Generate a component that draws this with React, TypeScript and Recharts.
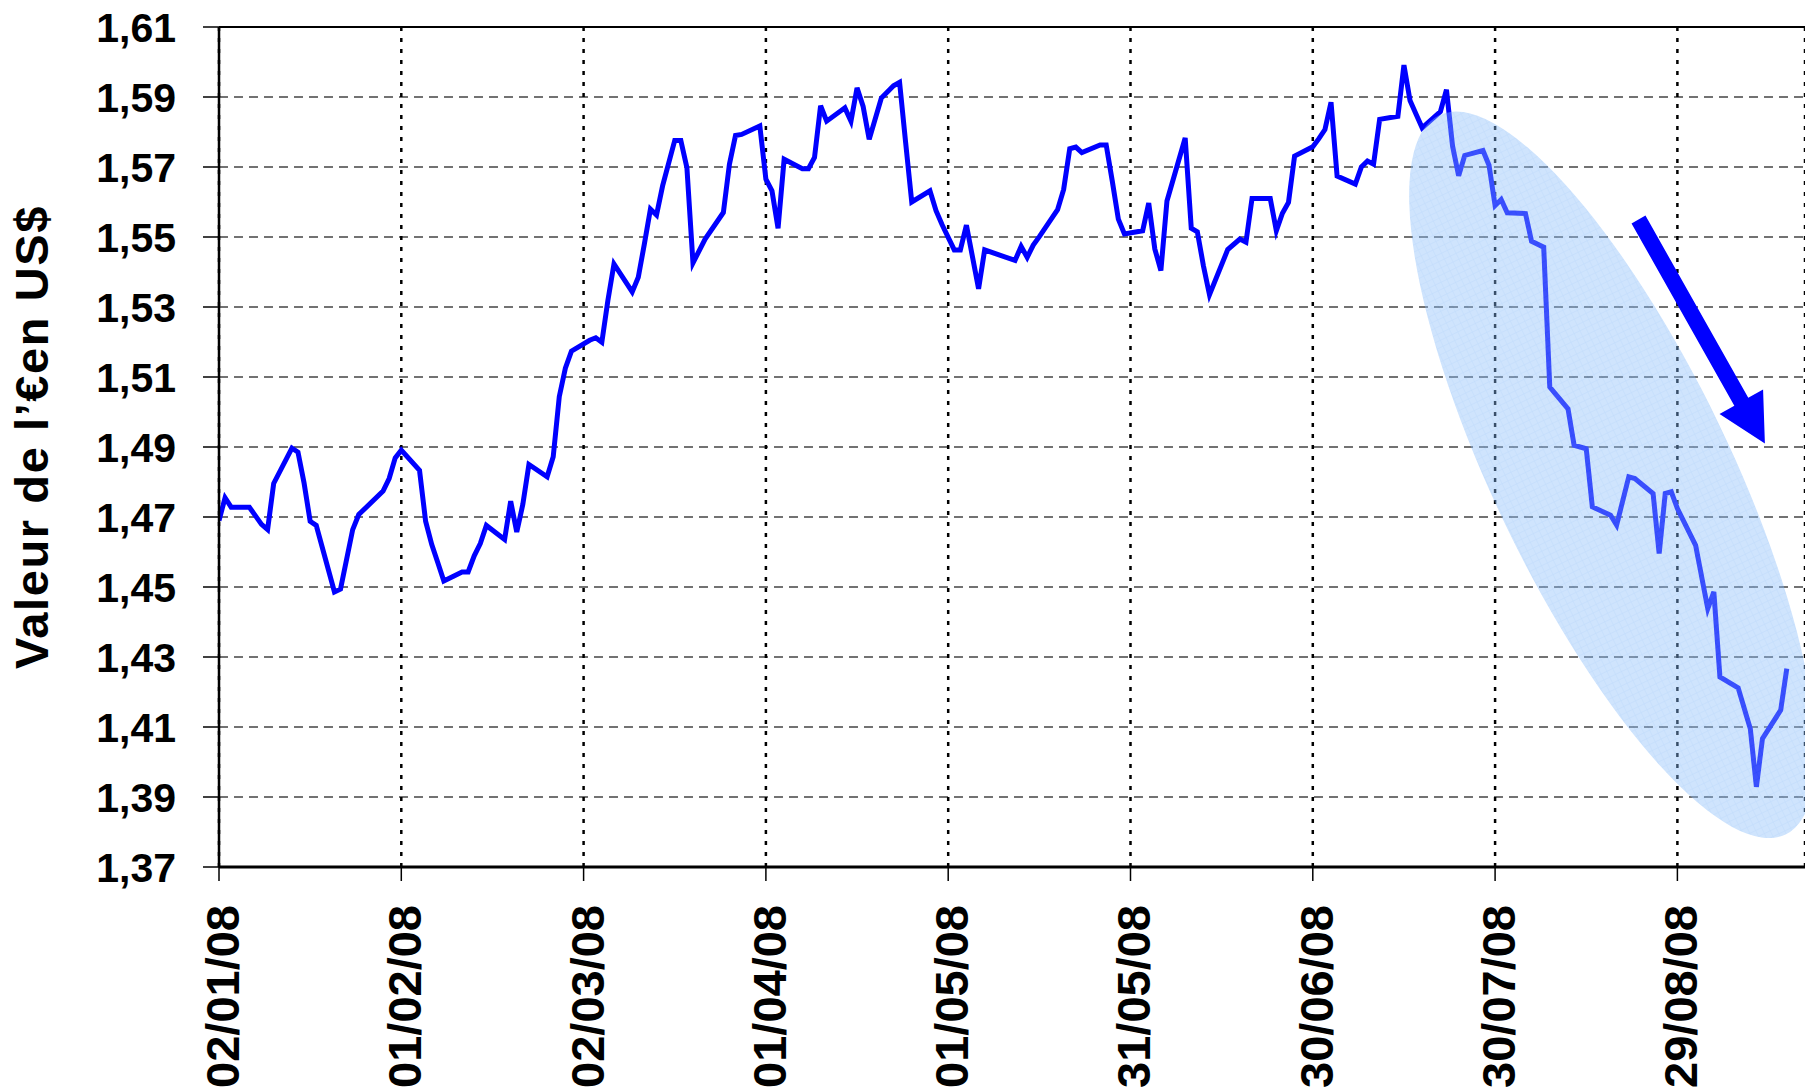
import { LineChart, Line, XAxis, YAxis, CartesianGrid, ReferenceLine } from 'recharts';

// day offsets from 02/01/08 and EUR/USD closing values
const days = [
  0, 1, 2, 5, 7, 8, 9, 12, 13, 14, 15, 16, 19, 20, 22, 23, 27, 28, 29, 30,
  33, 34, 35, 36, 37, 40, 41, 42, 43, 44, 47, 48, 49, 50, 51, 54, 55, 56, 57, 58,
  61, 62, 63, 64, 65, 68, 69, 70, 71, 72, 73, 75, 76, 77, 78, 80, 83, 84, 85, 86,
  89, 90, 91, 92, 93, 96, 97, 98, 99, 100, 103, 104, 105, 106, 107, 109, 111, 112, 113, 114,
  117, 118, 119, 121, 122, 123, 125, 126, 131, 132, 133, 134, 135, 138, 139, 140, 141, 142, 145, 146,
  147, 148, 149, 152, 153, 154, 155, 156, 159, 160, 161, 162, 163, 166, 168, 169, 170, 173, 174, 175,
  176, 177, 180, 181, 182, 183, 184, 187, 188, 189, 190, 191, 194, 195, 196, 197, 198, 201, 202, 203,
  204, 205, 208, 209, 210, 211, 212, 215, 216, 218, 219, 222, 223, 225, 226, 229, 230, 232, 233, 236,
  237, 238, 239, 240, 243, 245, 246, 247, 250, 252, 253, 254, 257, 258
];

const rates = [
  1.469, 1.4755, 1.4728, 1.4728, 1.4679, 1.4664, 1.4796, 1.4897, 1.4885, 1.4797, 1.4688, 1.4676, 1.4486, 1.4494, 1.4664, 1.4707, 1.4774, 1.481, 1.4869, 1.4891,
  1.4833, 1.4688, 1.4622, 1.457, 1.4517, 1.4543, 1.4543, 1.4589, 1.4624, 1.4676, 1.4636, 1.4745, 1.4657, 1.4736, 1.485, 1.4815, 1.4872, 1.5044, 1.5125, 1.5174,
  1.5205, 1.5212, 1.5199, 1.5319, 1.5423, 1.5343, 1.5385, 1.548, 1.558, 1.5563, 1.5646, 1.5776, 1.5776, 1.5698, 1.5426, 1.5494, 1.557, 1.5708, 1.579, 1.5793,
  1.5817, 1.5665, 1.5632, 1.5525, 1.5722, 1.5695, 1.5695, 1.5727, 1.5875, 1.5831, 1.5869, 1.5831, 1.5926, 1.5873, 1.5779, 1.5897, 1.5932, 1.5942, 1.5769, 1.56,
  1.5632, 1.5575, 1.5535, 1.5463, 1.5463, 1.5534, 1.5352, 1.5463, 1.5433, 1.5473, 1.5442, 1.5477, 1.5501, 1.5578, 1.5636, 1.5752, 1.5757, 1.5741, 1.5763, 1.5763,
  1.566, 1.5551, 1.5509, 1.5518, 1.5597, 1.5466, 1.5404, 1.5603, 1.5783, 1.5525, 1.5515, 1.5418, 1.5335, 1.5464, 1.5494, 1.5485, 1.561, 1.561, 1.5518, 1.5568,
  1.5599, 1.5731, 1.5758, 1.5781, 1.5807, 1.5885, 1.5674, 1.5651, 1.57, 1.5717, 1.5708, 1.5836, 1.5845, 1.5991, 1.589, 1.5851, 1.5812, 1.5858, 1.5921, 1.576,
  1.5675, 1.5733, 1.5747, 1.5705, 1.559, 1.5607, 1.5569, 1.5567, 1.5488, 1.5471, 1.5071, 1.5009, 1.4905, 1.4895, 1.4729, 1.4705, 1.4677, 1.4815, 1.481, 1.4767,
  1.4596, 1.4767, 1.4772, 1.4724, 1.4619, 1.4438, 1.4486, 1.4243, 1.4212, 1.4095, 1.3929, 1.4067, 1.4148, 1.4267
];

const tickDays = [0, 30, 60, 90, 120, 150, 180, 210, 240];
const tickLabels = ['02/01/08', '01/02/08', '02/03/08', '01/04/08', '01/05/08', '31/05/08', '30/06/08', '30/07/08', '29/08/08'];
const yTicks = [1.37, 1.39, 1.41, 1.43, 1.45, 1.47, 1.49, 1.51, 1.53, 1.55, 1.57, 1.59, 1.61];

// annotation: shaded oval along the fall, and the trend arrow (day, rate)
const ovalAxis = [{ x: 200.8, y: 1.5848 }, { x: 257.8, y: 1.3793 }];
const arrowPath = [{ x: 233.6, y: 1.555 }, { x: 254.4, y: 1.491 }];

const data = days.map((d, i) => ({ day: d, rate: rates[i] }));

const FONT = '"Liberation Sans", Arial, sans-serif';
const OVAL_HALF_WIDTH = 118;

function Oval(p: any) {
  const { x1, y1, x2, y2 } = p;
  const cx = (x1 + x2) / 2;
  const cy = (y1 + y2) / 2;
  const rx = Math.hypot(x2 - x1, y2 - y1) / 2;
  const ang = (Math.atan2(y2 - y1, x2 - x1) * 180) / Math.PI;
  return (
    <g>
      <defs>
        <pattern id="ovalGrid" width="6.5" height="6.5" patternUnits="userSpaceOnUse">
          <rect width="6.5" height="6.5" fill="#8cbefa" />
          <path d="M6.5 0V6.5M0 6.5H6.5" stroke="#6aaaf5" strokeWidth="1" />
        </pattern>
      </defs>
      <ellipse
        cx={cx}
        cy={cy}
        rx={rx}
        ry={OVAL_HALF_WIDTH}
        transform={`rotate(${ang} ${cx} ${cy})`}
        fill="url(#ovalGrid)"
        fillOpacity={0.42}
      />
    </g>
  );
}

function Arrow(p: any) {
  const { x1, y1, x2, y2 } = p;
  const len = Math.hypot(x2 - x1, y2 - y1);
  const ux = (x2 - x1) / len;
  const uy = (y2 - y1) / len;
  const nx = -uy;
  const ny = ux;
  const shaft = 8;
  const headLen = 48;
  const headHalf = 25;
  const bx = x2 - ux * headLen;
  const by = y2 - uy * headLen;
  const pts = [
    [x1 + nx * shaft, y1 + ny * shaft],
    [bx + nx * shaft, by + ny * shaft],
    [bx + nx * headHalf, by + ny * headHalf],
    [x2, y2],
    [bx - nx * headHalf, by - ny * headHalf],
    [bx - nx * shaft, by - ny * shaft],
    [x1 - nx * shaft, y1 - ny * shaft]
  ];
  return <polygon points={pts.map((q) => q.join(',')).join(' ')} fill="#0000ff" />;
}

function DateTick(props: any) {
  const { x, y, payload } = props;
  const idx = tickDays.indexOf(payload.value);
  return (
    <g transform={`translate(${x},${y})`}>
      <text
        transform="rotate(-90)"
        x={0}
        y={20}
        textAnchor="end"
        fontFamily={FONT}
        fontWeight="bold"
        fontSize={47}
        fill="#000"
      >
        {tickLabels[idx]}
      </text>
    </g>
  );
}

function YTitle() {
  return (
    <text
      transform="translate(48,437) rotate(-90)"
      textAnchor="middle"
      fontFamily={FONT}
      fontWeight="bold"
      fontSize={47}
      letterSpacing={1.6}
      fill="#000"
    >
      Valeur de l’€en US$
    </text>
  );
}

export default function App() {
  return (
    <div style={{ position: 'absolute', left: 0, top: 0, width: 1805, height: 1087, background: '#fff' }}>
      <LineChart width={1805} height={1087} data={data} margin={{ top: 27, right: 0, bottom: 0, left: 0 }}>
        <CartesianGrid horizontal vertical={false} stroke="#444" strokeWidth={1.5} strokeDasharray="9 6" />
        <CartesianGrid horizontal={false} vertical stroke="#000" strokeWidth={2.5} strokeDasharray="4 7" />
        <XAxis
          dataKey="day"
          type="number"
          domain={[0, 261]}
          ticks={tickDays}
          interval={0}
          allowDataOverflow
          height={220}
          tickSize={14}
          tickMargin={24}
          axisLine={{ stroke: '#000', strokeWidth: 3 }}
          tickLine={{ stroke: '#000', strokeWidth: 1.5 }}
          tick={<DateTick />}
        />
        <YAxis
          type="number"
          domain={[1.37, 1.61]}
          ticks={yTicks}
          interval={0}
          allowDataOverflow
          width={219}
          tickSize={16}
          tickMargin={27}
          axisLine={{ stroke: '#000', strokeWidth: 2.5 }}
          tickLine={{ stroke: '#000', strokeWidth: 1.5 }}
          tick={{ fill: '#000', fontSize: 41, fontWeight: 'bold', fontFamily: FONT }}
          tickFormatter={(v: number) => v.toFixed(2).replace('.', ',')}
          label={<YTitle />}
        />
        <ReferenceLine y={1.61} stroke="#000" strokeWidth={2} ifOverflow="visible" />
        <Line
          dataKey="rate"
          type="linear"
          stroke="#0000ff"
          strokeWidth={5}
          dot={false}
          isAnimationActive={false}
        />
        <ReferenceLine segment={ovalAxis} ifOverflow="visible" zIndex={600} shape={(p: any) => <Oval {...p} />} />
        <ReferenceLine segment={arrowPath} ifOverflow="visible" zIndex={600} shape={(p: any) => <Arrow {...p} />} />
      </LineChart>
    </div>
  );
}
